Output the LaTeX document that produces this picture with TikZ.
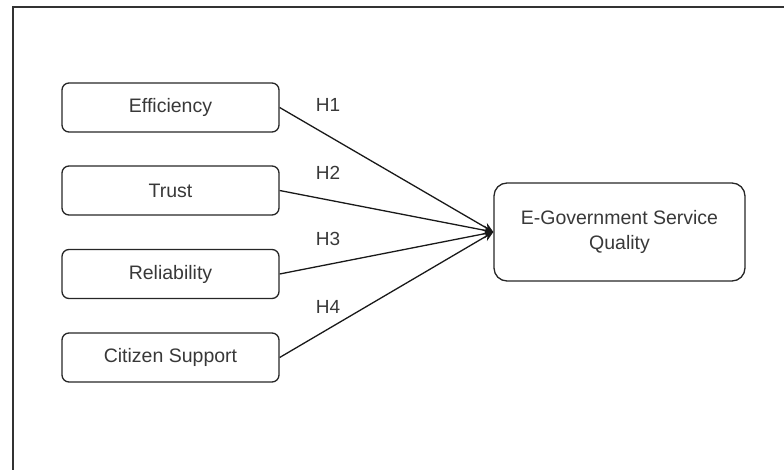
\documentclass[tikz,border=0pt]{standalone}
\usepackage{fontspec}
\setmainfont{Liberation Sans}
\usetikzlibrary{arrows.meta}
\begin{document}
\begin{tikzpicture}[x=1pt,y=-1pt,
  box/.style={draw=black!85, line width=1.3pt, rounded corners=7pt, minimum width=217pt, minimum height=49pt, inner sep=0pt, font=\fontsize{19.5}{23}\selectfont, text=black!78},
  bigbox/.style={draw=black!85, line width=1.3pt, rounded corners=13pt, minimum width=251pt, minimum height=98pt, inner sep=0pt, align=center, font=\fontsize{19.5}{25}\selectfont, text=black!78},
  hlabel/.style={font=\fontsize{19}{22}\selectfont, text=black!78, inner sep=0pt},
  link/.style={draw=black!90, line width=1.3pt, -{Stealth[length=10pt,width=9pt]}}]
\useasboundingbox (0,0) rectangle (784,470);
\clip (0,0) rectangle (784,470);
\draw[line width=2.2pt, black!80] (13,480) -- (13,7) -- (800,7);
\node[box] (eff) at (170.5,107.5) {Efficiency};
\node[box] (tru) at (170.5,190.5) {Trust};
\node[box] (rel) at (170.5,274) {Reliability};
\node[box] (cit) at (170.5,357.5) {Citizen Support};
\node[bigbox] (egs) at (619.5,232) {E-Government Service\\Quality};
\coordinate (tip) at (egs.west);
\draw[link] (eff.east) -- (tip);
\draw[link] (tru.east) -- (tip);
\draw[link] (rel.east) -- (tip);
\draw[link] (cit.east) -- (tip);
\node[hlabel] (h1) at (328,105) {H1};
\node[hlabel] (h2) at (328,173) {H2};
\node[hlabel] (h3) at (328,239) {H3};
\node[hlabel] (h4) at (328,307) {H4};
\end{tikzpicture}
\end{document}
